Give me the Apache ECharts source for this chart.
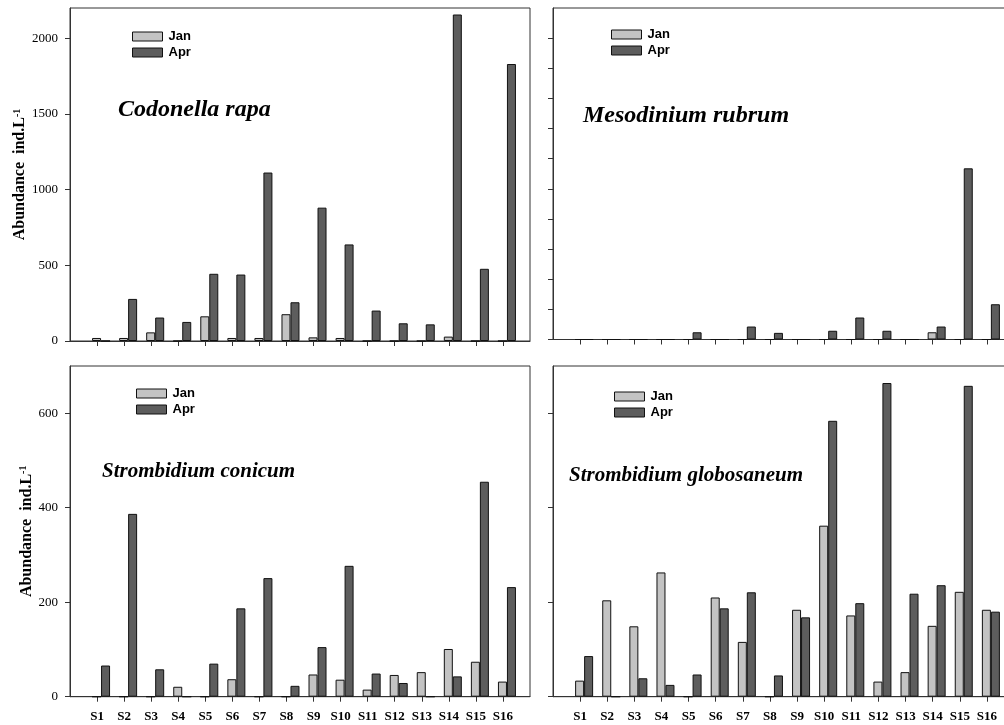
<!DOCTYPE html>
<html>
<head>
<meta charset="utf-8">
<script src="https://cdn.jsdelivr.net/npm/echarts@6/dist/echarts.min.js"></script>
<style>
html,body{margin:0;padding:0;background:#fff;}
#c{width:1004px;height:725px;}
</style>
</head>
<body>
<div id="c"></div>
<script>
// ---- data ----
const stations = ['S1','S2','S3','S4','S5','S6','S7','S8','S9','S10','S11','S12','S13','S14','S15','S16'];

const codonellaJan = [20, 20, 57, 0, 163, 20, 20, 177, 24, 20, 0, 0, 0, 29, 0, 0];
const codonellaApr = [0, 278, 155, 126, 444, 439, 1113, 256, 881, 638, 201, 117, 110, 2157, 477, 1830];

const mesodiniumJan = [0, 0, 0, 0, 0, 0, 0, 0, 0, 0, 0, 0, 0, 24, 0, 0];
const mesodiniumApr = [0, 0, 0, 0, 24, 0, 43, 22, 0, 29, 73, 29, 0, 43, 568, 117];

const conicumJan = [0, 0, 0, 21, 0, 37, 0, 0, 47, 36, 15, 46, 52, 101, 74, 32];
const conicumApr = [66, 387, 58, 0, 70, 187, 251, 23, 105, 277, 49, 29, 0, 43, 455, 232];

const globoJan = [34, 204, 149, 263, 0, 210, 116, 0, 184, 362, 172, 32, 52, 150, 222, 184];
const globoApr = [86, 0, 39, 25, 47, 187, 221, 45, 168, 584, 198, 664, 218, 236, 658, 180];

const yTicksCodonella = [0, 500, 1000, 1500, 2000];
const yTicksMesodinium = [0, 100, 200, 300, 400, 500, 600, 700, 800, 900, 1000];
const yTicksStrombidium = [0, 200, 400, 600];

const speciesNames = ['Codonella rapa', 'Mesodinium rubrum', 'Strombidium conicum', 'Strombidium globosaneum'];

// ---- styles ----
const SERIF = '"Liberation Serif", "Times New Roman", serif';
const SANS = '"Liberation Sans", Arial, sans-serif';
const JAN_COLOR = '#c3c3c3';
const APR_COLOR = '#5d5d5d';
const LINE = '#333';

const xCats = [''].concat(stations, ['']);
function pad(arr) { return [null].concat(arr, [null]); }

const panels = [
  {grid:{left:70, top:8, width:460, height:333}, ymax:2200, ticks:yTicksCodonella, labels:true, xlabels:false, jan:codonellaJan, apr:codonellaApr, nameGap:41,
   title:{left:118, top:98, size:24}, legend:{left:132, top:29}},
  {grid:{left:553, top:8, width:461, height:331.5}, ymax:1100, ticks:yTicksMesodinium, labels:false, xlabels:false, jan:mesodiniumJan, apr:mesodiniumApr,
   title:{left:583, top:104, size:24}, legend:{left:611, top:27}},
  {grid:{left:70, top:366, width:460, height:330.7}, ymax:700, ticks:yTicksStrombidium, labels:true, xlabels:true, jan:conicumJan, apr:conicumApr, nameGap:35,
   title:{left:102, top:461, size:21}, legend:{left:136, top:386}},
  {grid:{left:553, top:366, width:461, height:330.7}, ymax:700, ticks:yTicksStrombidium, labels:false, xlabels:true, jan:globoJan, apr:globoApr,
   title:{left:569, top:465, size:21}, legend:{left:614, top:389}}
];

const option = {
  animation:false,
  backgroundColor:'#fff',
  grid:[], xAxis:[], yAxis:[], series:[], title:[], legend:[]
};

panels.forEach((p, i) => {
  option.grid.push(Object.assign({show:true, borderColor:LINE, borderWidth:1, containLabel:false, outerBoundsMode:'none'}, p.grid));
  option.xAxis.push({
    type:'category', gridIndex:i, data:xCats, boundaryGap:false,
    axisLine:{show:true, lineStyle:{color:LINE, width:1}},
    axisTick:{show:true, length:5, inside:false, interval:(idx)=> idx>0 && idx<xCats.length-1, lineStyle:{color:LINE}},
    axisLabel:{show:p.xlabels, interval:0, margin:13, fontFamily:SERIF, fontSize:13, fontWeight:'bold', color:'#000'},
    splitLine:{show:false}
  });
  const ya = {
    type:'value', gridIndex:i, min:0, max:p.ymax,
    axisLine:{show:true, lineStyle:{color:LINE, width:1}},
    axisTick:{show:true, length:5, customValues:p.ticks, lineStyle:{color:LINE}},
    axisLabel:{show:p.labels, customValues:p.ticks, formatter:(v)=>String(v), margin:12, fontFamily:SERIF, fontSize:13, color:'#000'},
    splitLine:{show:false}
  };
  if (p.labels) {
    ya.name = 'Abundance  ind.L{sup|-1}';
    ya.nameLocation = 'middle';
    ya.nameGap = p.nameGap;
    ya.nameRotate = 90;
    ya.nameTextStyle = {fontFamily:SERIF, fontSize:16, fontWeight:'bold', color:'#000',
      rich:{sup:{fontFamily:SERIF, fontSize:10, fontWeight:'bold', color:'#000', verticalAlign:'top', padding:[0,0,6,0]}}};
  }
  option.yAxis.push(ya);
  // spacer series (empty) to reproduce the offset of the bar pair relative to the tick
  option.series.push({type:'bar', name:'spacer', xAxisIndex:i, yAxisIndex:i, data:[], barWidth:8, barGap:'0%', silent:true});
  option.series.push({type:'bar', name:'Jan', xAxisIndex:i, yAxisIndex:i, data:pad(p.jan), barWidth:9, barGap:'0%',
    itemStyle:{color:JAN_COLOR, borderColor:'#111', borderWidth:1}});
  option.series.push({type:'bar', name:'Apr', xAxisIndex:i, yAxisIndex:i, data:pad(p.apr), barWidth:9, barGap:'0%',
    itemStyle:{color:APR_COLOR, borderColor:'#111', borderWidth:1}});
  option.title.push({text:speciesNames[i], left:p.title.left, top:p.title.top, padding:0,
    textStyle:{fontFamily:SERIF, fontSize:p.title.size, fontWeight:'bold', fontStyle:'italic', color:'#000'}});
  option.legend.push({data:['Jan','Apr'], orient:'vertical', left:p.legend.left, top:p.legend.top, padding:0,
    itemWidth:30, itemHeight:9, itemGap:1, icon:'rect', selectedMode:false,
    itemStyle:{borderColor:'#111', borderWidth:1},
    textStyle:{fontFamily:SANS, fontSize:13, fontWeight:'bold', color:'#000', lineHeight:15, padding:[0,0,0,1]}});
});

const chart = echarts.init(document.getElementById('c'), null, {renderer:'canvas'});
chart.setOption(option);
</script>
</body>
</html>
